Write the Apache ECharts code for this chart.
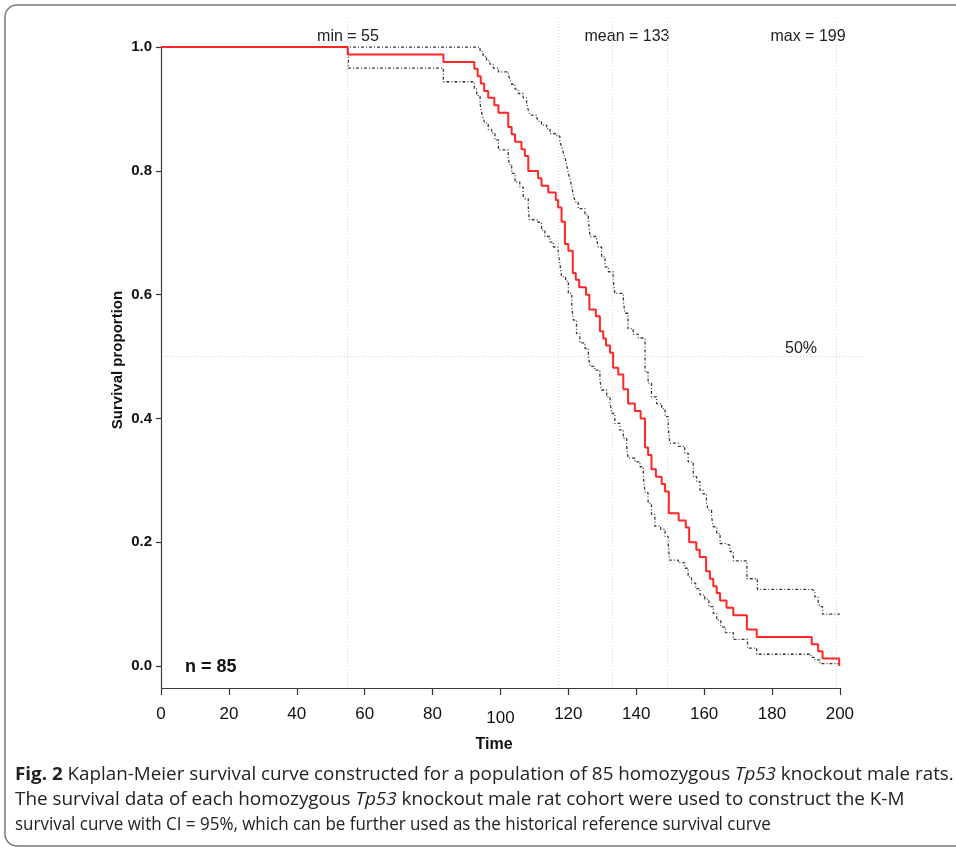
<!DOCTYPE html>
<html><head><meta charset="utf-8">
<script src="https://cdn.jsdelivr.net/npm/echarts@6/dist/echarts.min.js"></script>
<style>html,body{margin:0;padding:0;background:#fff}#c{width:956px;height:850px}</style>
</head><body><div id="c"></div>
<script>
// ---- data ----
const xTicks = [0, 20, 40, 60, 80, 100, 120, 140, 160, 180, 200];
const yTicks = [0, 0.2, 0.4, 0.6, 0.8, 1.0];

// Kaplan-Meier estimate (event times, survival after the event)
const kmTime = [0,55,83.2,92.3,93.3,94.2,95.2,96.4,98.2,99.4,102.3,103.3,104.3,106.2,107.2,108.2,111.1,112.1,114.1,116.3,117.0,118.0,119.0,120.0,121.3,122.2,123.2,125.2,126.2,128.1,129.3,130.3,131.1,132.3,133.2,134.7,136.2,137.6,139.6,141.3,142.6,143.5,144.5,145.8,147.5,148.5,149.6,152.5,154.6,155.6,157.7,158.7,160.6,161.7,162.7,163.7,164.7,166.6,168.6,172.6,175.5,191.7,193.6,194.9,199.8];
const kmSurv = [1.0,0.988,0.976,0.965,0.953,0.941,0.929,0.918,0.906,0.894,0.871,0.859,0.847,0.835,0.824,0.800,0.788,0.776,0.765,0.753,0.741,0.718,0.682,0.671,0.635,0.624,0.612,0.600,0.576,0.565,0.541,0.529,0.518,0.506,0.482,0.471,0.447,0.424,0.412,0.400,0.353,0.341,0.318,0.306,0.294,0.282,0.247,0.235,0.224,0.200,0.188,0.176,0.153,0.141,0.129,0.118,0.106,0.094,0.082,0.059,0.047,0.035,0.024,0.012,0.0];

// upper 95% CI
const upTime = [0,94.0,94.9,95.9,96.9,97.9,99.4,102.3,102.8,103.3,104.3,105.2,106.7,107.7,108.2,108.7,110.7,111.1,112.1,113.6,114.6,116.6,117.5,118.0,118.5,119.0,119.5,120.0,120.5,121.0,121.5,122.0,122.9,124.9,125.9,126.4,128.3,128.8,129.8,130.8,131.8,133.2,133.7,136.2,136.7,137.6,139.1,140.6,142.6,143.5,144.5,146.0,147.5,148.5,149.4,149.9,152.4,154.3,155.3,156.8,157.8,158.8,159.7,160.7,161.2,162.2,162.7,163.7,164.7,166.5,167.6,168.6,172.6,175.7,191.7,192.6,193.6,194.1,194.9,200];
const upVal  = [1.0,0.993,0.985,0.978,0.972,0.966,0.960,0.955,0.948,0.940,0.932,0.925,0.918,0.910,0.898,0.890,0.886,0.880,0.874,0.868,0.860,0.856,0.847,0.840,0.830,0.822,0.810,0.796,0.787,0.774,0.761,0.750,0.739,0.729,0.721,0.694,0.690,0.677,0.661,0.645,0.637,0.624,0.602,0.589,0.570,0.545,0.536,0.530,0.475,0.457,0.435,0.424,0.416,0.403,0.387,0.360,0.355,0.344,0.330,0.306,0.298,0.284,0.278,0.263,0.252,0.241,0.225,0.214,0.198,0.195,0.185,0.170,0.141,0.124,0.121,0.112,0.104,0.096,0.084,0.084];

// lower 95% CI
const loTime = [0,55.2,83.2,92.3,93.0,94.0,94.5,94.9,95.4,96.4,97.4,98.4,99.4,102.3,102.6,103.3,104.3,105.7,106.7,107.2,108.2,108.5,111.1,112.1,113.1,114.6,115.6,117.0,117.5,118.0,119.2,120.0,121.0,121.5,122.4,123.4,124.9,125.9,126.4,127.8,129.3,129.8,131.3,132.3,132.8,133.7,135.2,136.2,137.2,137.6,139.6,141.1,142.1,142.6,143.5,144.5,145.5,147.2,148.5,149.4,149.8,152.4,154.3,155.3,156.3,157.5,158.8,160.2,161.4,162.7,163.7,164.9,166.3,168.6,172.8,175.5,191.5,192.6,194.1,200];
const loVal  = [1.0,0.966,0.944,0.932,0.922,0.909,0.893,0.885,0.877,0.867,0.861,0.850,0.834,0.822,0.810,0.796,0.782,0.774,0.760,0.755,0.742,0.721,0.717,0.704,0.694,0.685,0.677,0.667,0.651,0.629,0.622,0.602,0.580,0.559,0.537,0.522,0.513,0.500,0.484,0.478,0.462,0.446,0.435,0.424,0.408,0.392,0.381,0.368,0.354,0.336,0.330,0.322,0.306,0.280,0.263,0.245,0.226,0.221,0.209,0.200,0.171,0.167,0.158,0.144,0.134,0.125,0.115,0.108,0.096,0.085,0.074,0.063,0.054,0.043,0.029,0.019,0.014,0.010,0.004,0.004];

// reference lines
const refTimes = [55, 117, 133, 149, 199];
const halfLine = 0.5;

// axis extents
const xMin = 0, xAxisEnd = 200, xMax = 207.4;
const yMin = -0.0355, yAxisEnd = 1.0, yMax = 1.047;

const zip = (a, b) => a.map((v, i) => [v, b[i]]);
const sans = '"Liberation Sans", Arial, sans-serif';
const capFont = '"Open Sans", "Noto Sans", sans-serif';

const chart = echarts.init(document.getElementById('c'), null, {renderer: 'canvas'});
const ciStyle = {color: '#3a3a3a', width: 1.3, type: [3, 2, 1, 2]};

function capLine(y, text, sx) {
  return {type: 'text', x: 15, y: y, scaleX: sx, style: {
    text: text, fontFamily: capFont, fontSize: 18, fill: '#222', textVerticalAlign: 'middle',
    rich: {
      b: {fontFamily: capFont, fontSize: 18, fontWeight: 'bold', fill: '#222'},
      i: {fontFamily: capFont, fontSize: 18, fontStyle: 'italic', fill: '#222'}
    }}};
}

chart.setOption({
  animation: false,
  backgroundColor: '#ffffff',
  grid: {left: 161, right: 91, top: 18, bottom: 162},
  xAxis: {
    type: 'value', min: xMin, max: xMax,
    axisLine: {show: false, onZero: false},
    splitLine: {show: false},
    axisTick: {show: true, customValues: xTicks, length: 7, lineStyle: {color: '#333', width: 1.2}},
    axisLabel: {
      customValues: xTicks, margin: 18, color: '#111',
      fontFamily: sans, fontSize: 17,
      formatter: v => v === 100 ? '{d|100}' : String(v),
      rich: {d: {fontFamily: sans, fontSize: 17, color: '#111', padding: [4, 0, 0, 0]}}
    }
  },
  yAxis: {
    type: 'value', min: yMin, max: yMax,
    axisLine: {show: false, onZero: false},
    splitLine: {show: false},
    axisTick: {show: true, customValues: yTicks, length: 5, lineStyle: {color: '#333', width: 1.2}},
    axisLabel: {
      customValues: yTicks, margin: 9, color: '#111',
      fontFamily: sans, fontSize: 15, fontWeight: 'bold',
      formatter: v => v.toFixed(1)
    }
  },
  series: [
    {
      name: 'lower CI', type: 'line', step: 'end', showSymbol: false, symbol: 'none',
      data: zip(loTime, loVal), lineStyle: ciStyle, z: 3,
      markLine: {
        silent: true, symbol: 'none', label: {show: false},
        lineStyle: {color: '#e8c9cc', width: 1, type: [1, 2]},
        data: refTimes.map(t => ({xAxis: t})).concat([{yAxis: halfLine}])
      }
    },
    {
      name: 'upper CI', type: 'line', step: 'end', showSymbol: false, symbol: 'none',
      data: zip(upTime, upVal), lineStyle: ciStyle, z: 3
    },
    {
      name: 'Survival', type: 'line', step: 'end', showSymbol: false, symbol: 'none',
      data: zip(kmTime, kmSurv), lineStyle: {color: '#ff2626', width: 2}, z: 5,
      markLine: {
        silent: true, symbol: 'none', label: {show: false},
        lineStyle: {color: '#3a3a3a', width: 1.2, type: 'solid'},
        data: [
          [{coord: [xMin, yMin]}, {coord: [xMin, yAxisEnd]}],
          [{coord: [xMin, yMin]}, {coord: [xAxisEnd, yMin]}]
        ]
      }
    }
  ],
  graphic: [
    {type: 'rect', silent: true, shape: {x: 5, y: 5, width: 1000, height: 841, r: 12},
      style: {fill: 'none', stroke: '#777', lineWidth: 1.5}},
    {type: 'text', x: 348, y: 37, style: {text: 'min = 55', font: '16px ' + sans, fill: '#222', textAlign: 'center', textVerticalAlign: 'middle'}},
    {type: 'text', x: 627, y: 37, style: {text: 'mean = 133', font: '16px ' + sans, fill: '#222', textAlign: 'center', textVerticalAlign: 'middle'}},
    {type: 'text', x: 808, y: 37, style: {text: 'max = 199', font: '16px ' + sans, fill: '#222', textAlign: 'center', textVerticalAlign: 'middle'}},
    {type: 'text', x: 801, y: 349, style: {text: '50%', font: '16px ' + sans, fill: '#222', textAlign: 'center', textVerticalAlign: 'middle'}},
    {type: 'text', x: 185, y: 667, style: {text: 'n = 85', font: 'bold 18px ' + sans, fill: '#111', textAlign: 'left', textVerticalAlign: 'middle'}},
    {type: 'text', x: 118, y: 360, rotation: Math.PI / 2, style: {text: 'Survival proportion', font: 'bold 15px ' + sans, fill: '#111', textAlign: 'center', textVerticalAlign: 'middle'}},
    {type: 'text', x: 494, y: 745, style: {text: 'Time', font: 'bold 16px ' + sans, fill: '#111', textAlign: 'center', textVerticalAlign: 'middle'}},
    capLine(775, '{b|Fig. 2} Kaplan-Meier survival curve constructed for a population of 85 homozygous {i|Tp53} knockout male rats.', 1.045),
    capLine(800, 'The survival data of each homozygous {i|Tp53} knockout male rat cohort were used to construct the K-M', 1.05),
    capLine(825, 'survival curve with CI = 95%, which can be further used as the historical reference survival curve', 0.943)
  ]
});
</script>
</body></html>
